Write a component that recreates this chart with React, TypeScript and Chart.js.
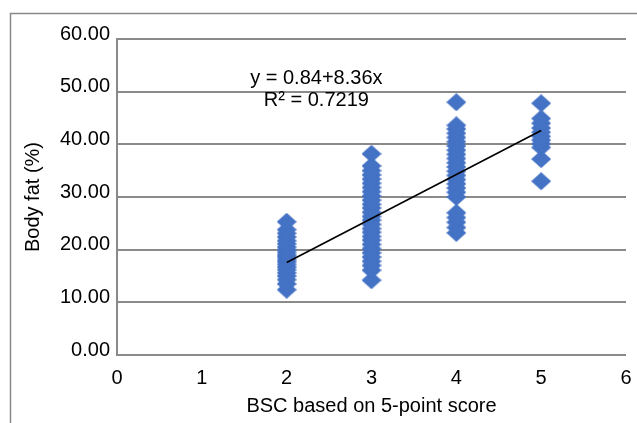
import React, { useEffect, useRef } from "react";
import { Chart, registerables } from "chart.js";

Chart.register(...registerables);

// ---- data ----
const bscScores = [2, 3, 4, 5];
const bodyFatScore2 = [12.4, 13.5, 14.3, 15.0, 15.6, 16.2, 16.7, 17.2, 17.7, 18.1, 18.6, 19.0, 19.5, 20.0, 20.5, 21.1, 21.7, 22.4, 23.1, 23.8, 25.3];
const bodyFatScore3 = [14.2, 16.1, 17.0, 17.8, 18.6, 19.4, 20.2, 21.0, 21.8, 22.5, 23.3, 24.0, 24.8, 25.6, 26.3, 27.1, 27.9, 28.6, 29.4, 30.2, 31.0, 31.8, 32.6, 33.4, 34.2, 35.0, 35.9, 38.2];
const bodyFatScore4 = [23.2, 24.2, 25.2, 26.1, 27.0, 30.0, 30.9, 31.7, 32.5, 33.3, 34.1, 34.9, 35.7, 36.5, 37.3, 38.1, 38.9, 39.7, 40.5, 41.3, 42.1, 42.9, 43.6, 48.0];
const bodyFatScore5 = [33.0, 37.2, 39.4, 40.1, 40.8, 41.5, 42.3, 43.1, 44.0, 44.9, 47.8];
const bodyFatByScore = [bodyFatScore2, bodyFatScore3, bodyFatScore4, bodyFatScore5];

const trendX = [2, 5];
const trendY = [17.56, 42.64];

const equationText = "y = 0.84+8.36x";
const rSquaredText = "R² = 0.7219";

const xAxisTitle = "BSC based on 5-point score";
const yAxisTitle = "Body fat (%)";

const FONT = '"Liberation Sans", Arial, sans-serif';
const GRID = "#8a8a8a";
const BLUE = "#4472C4";

function makeDiamond(): HTMLCanvasElement {
  const c = document.createElement("canvas");
  c.width = 20;
  c.height = 18;
  const g = c.getContext("2d")!;
  g.fillStyle = BLUE;
  g.beginPath();
  g.moveTo(10, 0);
  g.lineTo(20, 9);
  g.lineTo(10, 18);
  g.lineTo(0, 9);
  g.closePath();
  g.fill();
  return c;
}

const framePlugin = {
  id: "frameAndText",
  beforeDraw(chart: any) {
    const ctx = chart.ctx;
    ctx.save();
    ctx.fillStyle = "#ffffff";
    ctx.fillRect(0, 0, chart.width, chart.height);
    ctx.strokeStyle = "#888888";
    ctx.lineWidth = 1.5;
    ctx.beginPath();
    ctx.moveTo(10.5, chart.height);
    ctx.lineTo(10.5, 13.5);
    ctx.lineTo(chart.width, 13.5);
    ctx.stroke();
    ctx.restore();
  },
  afterDraw(chart: any) {
    const ctx = chart.ctx;
    const xs = chart.scales.x;
    const ys = chart.scales.y;
    ctx.save();
    ctx.fillStyle = "#000000";
    ctx.font = `20px ${FONT}`;
    ctx.textAlign = "center";
    ctx.textBaseline = "middle";
    ctx.fillText(equationText, xs.getPixelForValue(2.35), ys.getPixelForValue(52.5));
    ctx.fillText(rSquaredText, xs.getPixelForValue(2.35), ys.getPixelForValue(48.4));
    ctx.restore();
  },
};

export default function App() {
  const ref = useRef<HTMLCanvasElement | null>(null);

  useEffect(() => {
    if (!ref.current) return;
    const diamond = makeDiamond();
    const points: { x: number; y: number }[] = [];
    bscScores.forEach((s, i) => {
      bodyFatByScore[i].forEach((v) => points.push({ x: s, y: v }));
    });
    const trend = trendX.map((x, i) => ({ x, y: trendY[i] }));

    const chart = new Chart(ref.current, {
      type: "scatter",
      data: {
        datasets: [
          {
            type: "line",
            data: trend,
            borderColor: "#000000",
            borderWidth: 1.6,
            pointRadius: 0,
            fill: false,
          } as any,
          {
            data: points,
            pointStyle: diamond as any,
            pointRadius: 9,
            backgroundColor: BLUE,
          },
        ],
      },
      options: {
        animation: false,
        responsive: false,
        devicePixelRatio: 1,
        layout: { padding: { left: 0, top: 39, right: 11, bottom: 0 } },
        plugins: {
          legend: { display: false },
          tooltip: { enabled: false },
        },
        scales: {
          x: {
            type: "linear",
            min: 0,
            max: 6,
            afterFit: (s: any) => {
              s.height = 68;
              s.paddingLeft = 0;
              s.paddingRight = 0;
            },
            ticks: {
              stepSize: 1,
              color: "#000",
              font: { family: FONT, size: 20 },
              padding: 11,
            },
            grid: { display: false, drawTicks: false },
            border: { display: false },
            title: {
              display: true,
              text: xAxisTitle,
              color: "#000",
              font: { family: FONT, size: 20 },
              padding: { top: 0, bottom: 5 },
            },
          },
          y: {
            type: "linear",
            min: 0,
            max: 60,
            afterFit: (s: any) => {
              s.width = 117;
              s.paddingTop = 0;
              s.paddingBottom = 0;
            },
            ticks: {
              stepSize: 10,
              color: "#000",
              font: { family: FONT, size: 20 },
              padding: 7,
              labelOffset: -5,
              callback: (v: any) => Number(v).toFixed(2),
            },
            grid: { color: GRID, lineWidth: 2, drawTicks: false },
            border: { display: true, color: GRID, width: 2 },
            title: {
              display: true,
              text: yAxisTitle,
              color: "#000",
              font: { family: FONT, size: 20 },
              padding: { top: 21, bottom: 0 },
            },
          },
        },
      },
      plugins: [framePlugin],
    });
    return () => chart.destroy();
  }, []);

  return (
    <div style={{ position: "fixed", left: 0, top: 0, width: 637, height: 423 }}>
      <canvas ref={ref} width={637} height={423} style={{ display: "block" }} />
    </div>
  );
}
